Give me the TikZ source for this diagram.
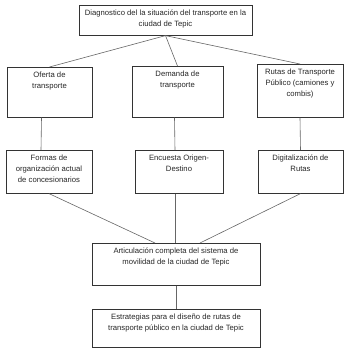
\documentclass[tikz,border=0pt]{standalone}
\usepackage{fontspec}
\setmainfont{Liberation Sans}
\usepackage{tikz}
\usetikzlibrary{positioning}
\tikzset{
    caja/.style={draw=black!80, line width=0.6pt, inner sep=0pt, anchor=north, font=\fontsize{7.7}{10.8}\selectfont, text=black!85},
    linea/.style={draw=black!60, line width=0.6pt},
}
\newcommand{\cajatexto}[3]{\parbox[c][#2][t]{#1}{\centering\vspace*{5pt}#3}}% Syntax: {width}{height}{text}

\begin{document}
\begin{tikzpicture}[x=1pt,y=-1pt]
	\useasboundingbox (0,0) rectangle (344,348);
	\node[caja] (diag) at (165.5,5) {\cajatexto{173pt}{30pt}{Diagnostico del la situación del transporte en la\\ciudad de Tepic}};
	\node[caja] (oferta) at (49.5,67) {\cajatexto{85pt}{50pt}{Oferta de\\transporte}};
	\node[caja] (demanda) at (177.5,66) {\cajatexto{91pt}{51pt}{Demanda de\\transporte}};
	\node[caja] (rutas) at (300,64) {\cajatexto{86pt}{53pt}{Rutas de Transporte\\Público (camiones y\\combis)}};
	\node[caja] (formas) at (49,150) {\cajatexto{86pt}{43pt}{Formas de\\organización actual\\de concesionarios}};
	\node[caja] (encuesta) at (179,150) {\cajatexto{88pt}{43pt}{Encuesta Origen-\\Destino}};
	\node[caja] (digital) at (300.5,150) {\cajatexto{85pt}{43pt}{Digitalización de\\Rutas}};
	\node[caja] (artic) at (176,243) {\cajatexto{168pt}{42pt}{Articulación completa del sistema de\\movilidad de la ciudad de Tepic}};
	\node[caja] (estrat) at (176,309) {\cajatexto{168pt}{38pt}{Estrategias para el diseño de rutas de\\transporte público en la ciudad de Tepic}};
	% diagnostico -> primera fila
	\draw[linea] (diag.south) -- (oferta.north);
	\draw[linea] (diag.south) -- (demanda.north);
	\draw[linea] (diag.south) -- (rutas.north);
	% primera fila -> segunda fila
	\draw[linea] ([xshift=-8pt]oferta.south) -- ([xshift=-8pt]formas.north);
	\draw[linea] ([xshift=-3pt]demanda.south) -- ([xshift=-4pt]encuesta.north);
	\draw[linea] (rutas.south) -- (digital.north);
	% segunda fila -> articulacion
	\draw[linea] (formas.south) -- ([xshift=-21pt]artic.north);
	\draw[linea] ([xshift=-4pt]encuesta.south) -- ([xshift=-1pt]artic.north);
	\draw[linea] (digital.south) -- ([xshift=24pt]artic.north);
	\draw[linea] (artic.south) -- (estrat.north);
\end{tikzpicture}
\end{document}
